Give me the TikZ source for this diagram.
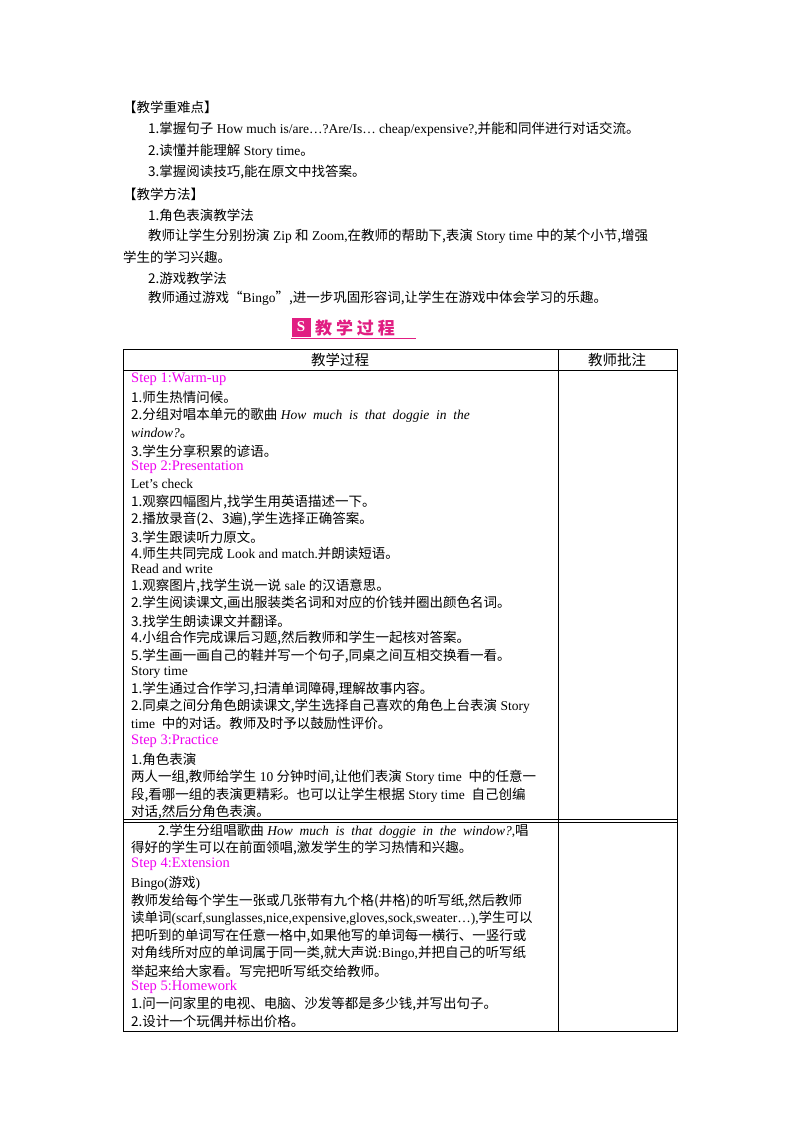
\documentclass[tikz,border=0pt]{standalone}
\usepackage{fontspec}
\setmainfont{Liberation Serif}
\newfontfamily\cjk{Noto Sans CJK SC}
\newcommand\zh[1]{{\cjk #1}}
\definecolor{mag}{RGB}{240,0,240}
\definecolor{ban}{RGB}{225,30,130}
\begin{document}
\begin{tikzpicture}[x=1pt,y=-1pt,
  t/.style={anchor=west,inner sep=0,font=\fontsize{13.5}{15}\selectfont},
  st/.style={t,text=mag,font=\fontsize{14.5}{16}\selectfont},
  rule/.style={line width=0.9pt}]
\useasboundingbox[fill=white] (0,0) rectangle (800,1132);
% top text
\node[t] (a1) at (123,107) {\zh{【教学重难点】}};
\node[t] (a2) at (148,129) {\zh{1.掌握句子} How much is/are…?Are/Is… cheap/expensive?,\zh{并能和同伴进行对话交流。}};
\node[t] (a3) at (148,151) {\zh{2.读懂并能理解} Story time\zh{。}};
\node[t] (a4) at (148,172) {\zh{3.掌握阅读技巧,能在原文中找答案。}};
\node[t] (a5) at (123,194) {\zh{【教学方法】}};
\node[t] (a6) at (148,215) {\zh{1.角色表演教学法}};
\node[t] (a7) at (148,236) {\zh{教师让学生分别扮演} Zip \zh{和} Zoom,\zh{在教师的帮助下,表演} Story time \zh{中的某个小节,增强}};
\node[t] (a8) at (123,257) {\zh{学生的学习兴趣。}};
\node[t] (a9) at (148,278) {\zh{2.游戏教学法}};
\node[t] (a10) at (148,298) {\zh{教师通过游戏“}Bingo\zh{”,进一步巩固形容词,让学生在游戏中体会学习的乐趣。}};
% banner
\node[fill=ban,minimum size=19,inner sep=0,text=white,font=\bfseries\fontsize{15}{15}\selectfont] (ic) at (301,327) {S};
\node[anchor=west,inner sep=0,text=ban,font=\cjk\bfseries\fontsize{17}{17}\selectfont] (bt) at (315,328) {教 学 过 程};
\draw[ban,line width=0.8pt] (291,338) -- (416,338);
% table
\draw[rule] (123,349) rectangle (677,1031);
\draw[rule] (558,349) -- (558,1031);
\draw[rule] (123,370) -- (677,370);
\draw[rule] (123,819) -- (677,819);
\draw[rule] (123,822) -- (677,822);
\node[inner sep=0,font=\cjk\fontsize{14.5}{16}\selectfont] (h1) at (340,360) {教学过程};
\node[inner sep=0,font=\cjk\fontsize{14.5}{16}\selectfont] (h2) at (617,360) {教师批注};
\node[st] (s1) at (131,379) {Step 1:Warm-up};
\node[t] (b1) at (131,397) {\zh{1.师生热情问候。}};
\node[t] (b2) at (131,415) {\zh{2.分组对唱本单元的歌曲} \textit{How\ \ much\ \ is\ \ that\ \ doggie\ \ in\ \ the}};
\node[t] (b3) at (131,433) {\textit{window?}\zh{。}};
\node[t] (b4) at (131,451) {\zh{3.学生分享积累的谚语。}};
\node[st] (s2) at (131,467) {Step 2:Presentation};
\node[t] (b5) at (131,484) {Let’s check};
\node[t] (b6) at (131,502) {\zh{1.观察四幅图片,找学生用英语描述一下。}};
\node[t] (b7) at (131,519) {\zh{2.播放录音(2、3遍),学生选择正确答案。}};
\node[t] (b8) at (131,537) {\zh{3.学生跟读听力原文。}};
\node[t] (b9) at (131,553) {\zh{4.师生共同完成} Look and match.\zh{并朗读短语。}};
\node[t] (b10) at (131,569) {Read and write};
\node[t] (b11) at (131,586) {\zh{1.观察图片,找学生说一说} sale \zh{的汉语意思。}};
\node[t] (b12) at (131,603) {\zh{2.学生阅读课文,画出服装类名词和对应的价钱并圈出颜色名词。}};
\node[t] (b13) at (131,621) {\zh{3.找学生朗读课文并翻译。}};
\node[t] (b14) at (131,638) {\zh{4.小组合作完成课后习题,然后教师和学生一起核对答案。}};
\node[t] (b15) at (131,656) {\zh{5.学生画一画自己的鞋并写一个句子,同桌之间互相交换看一看。}};
\node[t] (b16) at (131,672) {Story time};
\node[t] (b17) at (131,689) {\zh{1.学生通过合作学习,扫清单词障碍,理解故事内容。}};
\node[t] (b18) at (131,706) {\zh{2.同桌之间分角色朗读课文,学生选择自己喜欢的角色上台表演} Story};
\node[t] (b19) at (131,723) {time\ \ \zh{中的对话。教师及时予以鼓励性评价。}};
\node[st] (s3) at (131,741) {Step 3:Practice};
\node[t] (b20) at (131,759) {\zh{1.角色表演}};
\node[t] (b21) at (131,777) {\zh{两人一组,教师给学生} 10 \zh{分钟时间,让他们表演} Story time\ \ \zh{中的任意一}};
\node[t] (b22) at (131,795) {\zh{段,看哪一组的表演更精彩。也可以让学生根据} Story time\ \ \zh{自己创编}};
\node[t] (b23) at (131,812) {\zh{对话,然后分角色表演。}};
\node[t] (c1) at (158,831) {\zh{2.学生分组唱歌曲} \textit{How\ \ much\ \ is\ \ that\ \ doggie\ \ in\ \ the\ \ window?},\zh{唱}};
\node[t] (c2) at (131,848) {\zh{得好的学生可以在前面领唱,激发学生的学习热情和兴趣。}};
\node[st] (s4) at (131,864) {Step 4:Extension};
\node[t] (c3) at (131,883) {Bingo(\zh{游戏})};
\node[t] (c4) at (131,901) {\zh{教师发给每个学生一张或几张带有九个格(井格)的听写纸,然后教师}};
\node[t] (c5) at (131,918) {\zh{读单词}(scarf,sunglasses,nice,expensive,gloves,sock,sweater…),\zh{学生可以}};
\node[t] (c6) at (131,936) {\zh{把听到的单词写在任意一格中,如果他写的单词每一横行、一竖行或}};
\node[t] (c7) at (131,953) {\zh{对角线所对应的单词属于同一类,就大声说}:Bingo,\zh{并把自己的听写纸}};
\node[t] (c8) at (131,971) {\zh{举起来给大家看。写完把听写纸交给教师。}};
\node[st] (s5) at (131,987) {Step 5:Homework};
\node[t] (c9) at (131,1004) {\zh{1.问一问家里的电视、电脑、沙发等都是多少钱,并写出句子。}};
\node[t] (c10) at (131,1021) {\zh{2.设计一个玩偶并标出价格。}};
\end{tikzpicture}
\end{document}
